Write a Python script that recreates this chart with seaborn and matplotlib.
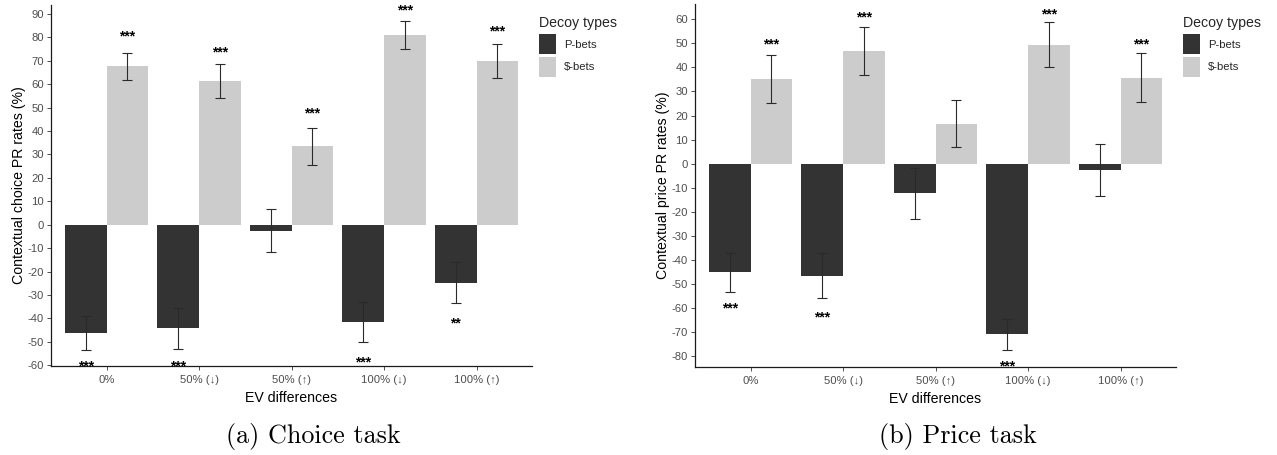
import numpy as np
import pandas as pd
import matplotlib
matplotlib.use("Agg")
import matplotlib.pyplot as plt
import seaborn as sns
from matplotlib.patches import Patch

# ---------------- data ----------------
categories = ["0%", "50% (↓)", "50% (↑)", "100% (↓)", "100% (↑)"]
decoy_types = ["P-bets", "$-bets"]

# (a) Choice task
choice_p = [-46.3, -44.2, -2.6, -41.5, -24.8]
choice_p_se = [7.2, 8.7, 9.2, 8.4, 8.7]
choice_s = [67.6, 61.3, 33.6, 80.9, 69.9]
choice_s_se = [5.9, 7.3, 7.9, 5.9, 7.2]
choice_p_sig = ["***", "***", "", "***", "**"]
choice_s_sig = ["***", "***", "***", "***", "***"]
choice_p_sig_y = [-59.0, -59.0, 0.0, -57.0, -40.5]
choice_s_sig_y = [82.0, 75.0, 49.0, 93.0, 84.3]

# (b) Price task
price_p = [-45.2, -46.6, -12.3, -71.1, -2.6]
price_p_se = [8.2, 9.2, 10.6, 6.5, 10.7]
price_s = [35.3, 46.7, 16.6, 49.5, 35.8]
price_s_se = [9.9, 10.0, 9.8, 9.4, 10.2]
price_p_sig = ["***", "***", "", "***", ""]
price_s_sig = ["***", "***", "", "***", "***"]
price_p_sig_y = [-58.9, -62.3, 0.0, -82.9, 0.0]
price_s_sig_y = [51.2, 62.3, 0.0, 63.7, 51.2]

choice_yticks = list(range(-60, 91, 10))
price_yticks = list(range(-80, 61, 10))

# ---------------- style ----------------
sns.set_theme(style="white")
plt.rcParams["font.family"] = ["Liberation Sans", "DejaVu Sans"]

palette = {"P-bets": "#333333", "$-bets": "#CCCCCC"}
W, H = 1277, 455
fig = plt.figure(figsize=(W / 100, H / 100), dpi=100)


def make_df(p, p_se, s, s_se):
    rows = []
    for i, c in enumerate(categories):
        rows.append({"ev": c, "type": "P-bets", "val": p[i], "se": p_se[i]})
    for i, c in enumerate(categories):
        rows.append({"ev": c, "type": "$-bets", "val": s[i], "se": s_se[i]})
    return pd.DataFrame(rows)


def panel(rect, df, sigs, sig_ys, ylim, yticks, ylabel, caption, cap_x, leg_xy):
    ax = fig.add_axes(rect)
    sns.barplot(data=df, x="ev", y="val", hue="type", order=categories,
                hue_order=decoy_types, palette=palette, width=0.9,
                errorbar=None, linewidth=0, saturation=1, ax=ax, legend=False)
    for cont, t, sig, sy in zip(ax.containers, decoy_types, sigs, sig_ys):
        sub = df[df["type"] == t].set_index("ev").loc[categories]
        xs = [b.get_x() + b.get_width() / 2 for b in cont]
        ax.errorbar(xs, sub["val"].values, yerr=sub["se"].values, fmt="none",
                    ecolor="#2a2a2a", elinewidth=0.8, capsize=3.6,
                    capthick=0.8, zorder=3)
        for x, lab, yy in zip(xs, sig, sy):
            if lab:
                ax.annotate(lab, xy=(x, yy), xytext=(0, -5.6),
                            textcoords="offset points", ha="center",
                            va="baseline", fontsize=10, fontweight="bold",
                            color="black")
    ax.set_xlim(-0.6, 4.6)
    ax.set_ylim(*ylim)
    ax.set_yticks(yticks)
    ax.set_yticklabels([str(v) for v in yticks])
    for s in ["top", "right"]:
        ax.spines[s].set_visible(False)
    for s in ["left", "bottom"]:
        ax.spines[s].set_color("#1a1a1a")
        ax.spines[s].set_linewidth(0.9)
    ax.tick_params(axis="both", which="major", length=2.6, width=0.6,
                   color="#333333", labelsize=8.1, labelcolor="#4D4D4D",
                   pad=2.4, bottom=True, left=True)
    ax.tick_params(axis="x", pad=3.9)
    ax.set_xlabel("EV differences", fontsize=10.2, color="black", labelpad=4.5)
    ax.set_ylabel(ylabel, fontsize=10.2, color="black", labelpad=1)
    ax.grid(False)
    handles = [Patch(facecolor=palette[t], edgecolor="none", label=t)
               for t in decoy_types]
    leg = fig.legend(handles=handles, title="Decoy types", loc="upper left",
                     bbox_to_anchor=(leg_xy[0] / W, 1 - leg_xy[1] / H),
                     frameon=False, fontsize=8.1, title_fontsize=10.2,
                     handlelength=1.5, handleheight=2.36, handletextpad=0.7,
                     labelspacing=0.22, borderpad=0, borderaxespad=0,
                     alignment="left")
    leg._legend_box.sep = 3.4
    fig.text(cap_x / W, 1 - 437 / H, caption, ha="center", va="center",
             family="cmr10", fontsize=18.8, color="black")
    return ax


df_choice = make_df(choice_p, choice_p_se, choice_s, choice_s_se)
df_price = make_df(price_p, price_p_se, price_s, price_s_se)

panel([51 / W, (H - 366) / H, 481 / W, (366 - 5) / H], df_choice,
      [choice_p_sig, choice_s_sig], [choice_p_sig_y, choice_s_sig_y],
      (-60.3, 93.8), choice_yticks, "Contextual choice PR rates (%)",
      "(a) Choice task", 313.5, (539, 15.5))
panel([695 / W, (H - 366.7) / H, 481 / W, (366.7 - 4) / H], df_price,
      [price_p_sig, price_s_sig], [price_p_sig_y, price_s_sig_y],
      (-84.5, 66.4), price_yticks, "Contextual price PR rates (%)",
      "(b) Price task", 957.5, (1183, 15.5))

fig.savefig("out.png", dpi=100)
